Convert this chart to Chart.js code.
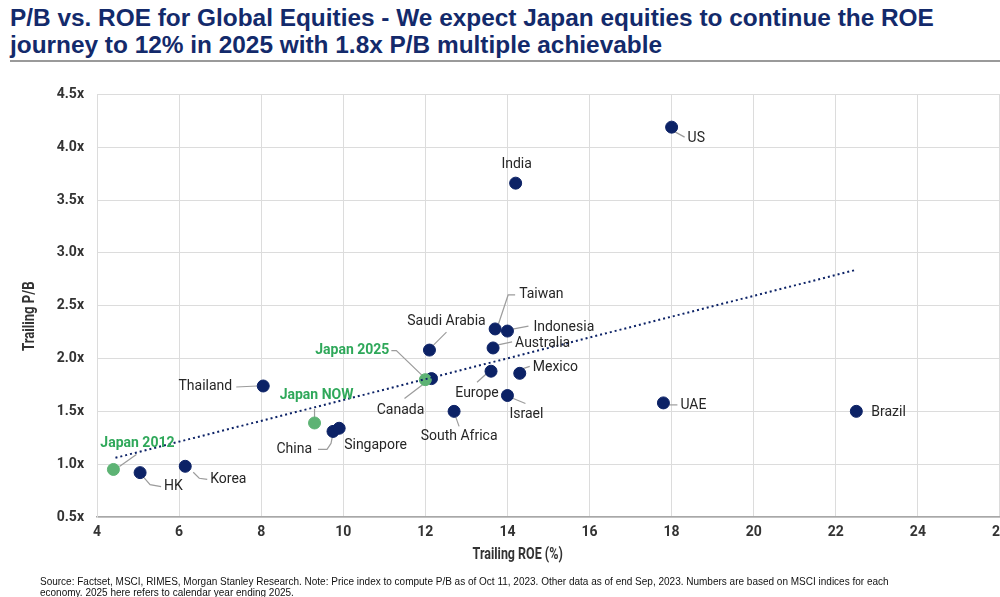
<!DOCTYPE html>
<html>
<head>
<meta charset="utf-8">
<script src="https://cdn.jsdelivr.net/npm/chart.js@4.4.1/dist/chart.umd.min.js"></script>
<style>
  html, body { margin:0; padding:0; background:#fff; width:1000px; height:597px; overflow:hidden; position:relative; }
  #title { position:absolute; left:10px; top:4px; font-family:"Liberation Sans", Arial, sans-serif; font-weight:bold; font-size:24.4px; line-height:27px; color:#132a6b; white-space:nowrap; }
  #rule { position:absolute; left:10px; top:60px; width:990px; height:2px; background:#9a9a9a; }
  #chartWrap { position:absolute; left:0; top:73px; }
  #foot { position:absolute; left:40px; top:576px; font-family:"Liberation Sans", Arial, sans-serif; font-size:10px; line-height:11px; color:#111; white-space:nowrap; }
</style>
</head>
<body>
<div id="title">P/B vs. ROE for Global Equities - We expect Japan equities to continue the ROE<br>journey to 12% in 2025 with 1.8x P/B multiple achievable</div>
<div id="rule"></div>
<div id="chartWrap"><canvas id="c" width="1015" height="504"></canvas></div>
<div id="foot">Source: Factset, MSCI, RIMES, Morgan Stanley Research. Note: Price index to compute P/B as of Oct 11, 2023. Other data as of end Sep, 2023. Numbers are based on MSCI indices for each<br>economy. 2025 here refers to calendar year ending 2025.</div>
<script>
// ---- data ----
const countries = ['US','India','Taiwan','Indonesia','Saudi Arabia','Australia','Canada','Europe','Mexico','Israel','South Africa','Thailand','China','Singapore','HK','Korea','UAE','Brazil'];
const roe       = [18.0, 14.2, 13.7, 14.0, 12.1, 13.65, 12.15, 13.6, 14.3, 14.0, 12.7, 8.05, 9.75, 9.9, 5.05, 6.15, 17.8, 22.5];
const pb        = [4.19, 3.66, 2.28, 2.26, 2.08, 2.10, 1.81, 1.88, 1.86, 1.65, 1.50, 1.74, 1.31, 1.34, 0.92, 0.98, 1.58, 1.50];
const japanLabels = ['Japan 2012','Japan NOW','Japan 2025'];
const japanRoe    = [4.4, 9.3, 12.0];
const japanPb     = [0.95, 1.39, 1.80];
const trendRoe = [4.45, 22.5];
const trendPb  = [1.06, 2.84];
const xTickStep = 2, xMin = 4, xMax = 26;
const yTickStep = 0.5, yMin = 0.5, yMax = 4.5;
const xTitle = 'Trailing ROE (%)';
const yTitle = 'Trailing P/B';

// ---- label placement (pixel offsets from each point) ----
const labelLayout = {
  'US':          {dx:16, dy:11, align:'left', lead:[[2,4],[13,10]]},
  'India':       {dx:1, dy:-19, align:'center'},
  'Taiwan':      {dx:24, dy:-34, align:'left', lead:[[3,-4],[13,-34],[20,-34]]},
  'Indonesia':   {dx:26, dy:-4, align:'left', lead:[[5,-2],[21,-5]]},
  'Saudi Arabia':{dx:17, dy:-29, align:'center', lead:[[4,-5],[17,-18]]},
  'Australia':   {dx:22, dy:-4, align:'left', lead:[[5,-3],[19,-6]]},
  'Canada':      {dx:-31, dy:32, align:'center', lead:[[-27,20],[-6,4]]},
  'Europe':      {dx:-14, dy:22, align:'center', lead:[[-14,11],[-4,2]]},
  'Mexico':      {dx:13, dy:-6, align:'left', lead:[[1,-4],[10,-7]]},
  'Israel':      {dx:19, dy:19, align:'center', lead:[[1,1],[18,8]]},
  'South Africa':{dx:5, dy:25, align:'center', lead:[[0,1],[5,15]]},
  'Thailand':    {dx:-31, dy:1, align:'right', lead:[[-27,1],[-6,0]]},
  'China':       {dx:-21, dy:18, align:'right', lead:[[-15,18],[-6,18],[-2,12],[0,2]]},
  'Singapore':   {dx:5, dy:17, align:'left'},
  'HK':          {dx:24, dy:14, align:'left', lead:[[3,4],[10,12],[21,14]]},
  'Korea':       {dx:25, dy:13, align:'left', lead:[[8,6],[14,12],[22,13]]},
  'UAE':         {dx:17, dy:3, align:'left', lead:[[5,2],[14,2]]},
  'Brazil':      {dx:15, dy:1, align:'left'},
  'Japan 2012':  {dx:24, dy:-26, align:'center', lead:[[23,-15],[6,-3]]},
  'Japan NOW':   {dx:2, dy:-27, align:'center', lead:[[0,-14],[0,-5]]},
  'Japan 2025':  {dx:-36, dy:-29, align:'right', lead:[[-34,-29],[-29,-29],[-3,-4]]}
};

const NAVY = '#0c2266';
const GREEN = '#5db374';
const GREEN_TEXT = '#2fa85a';

const navyPts = countries.map((n,i)=>({x:roe[i], y:pb[i], name:n}));
const greenPts = japanLabels.map((n,i)=>({x:japanRoe[i], y:japanPb[i], name:n}));
const trendPts = trendRoe.map((v,i)=>({x:v, y:trendPb[i]}));

const labelPlugin = {
  id:'pointLabels',
  beforeDatasetsDraw(chart){
    const ctx = chart.ctx, xs = chart.scales.x, ys = chart.scales.y;
    ctx.save();
    ctx.strokeStyle = '#9c9c9c';
    ctx.lineWidth = 1.2;
    [...navyPts, ...greenPts].forEach(p=>{
      const L = labelLayout[p.name];
      if(!L || !L.lead) return;
      const px = xs.getPixelForValue(p.x), py = ys.getPixelForValue(p.y);
      ctx.beginPath();
      L.lead.forEach((o,k)=>{ if(k===0) ctx.moveTo(px+o[0], py+o[1]); else ctx.lineTo(px+o[0], py+o[1]); });
      ctx.stroke();
    });
    ctx.restore();
  },
  afterDatasetsDraw(chart){
    const ctx = chart.ctx, xs = chart.scales.x, ys = chart.scales.y;
    ctx.save();
    ctx.textBaseline = 'middle';
    navyPts.forEach(p=>{
      const L = labelLayout[p.name];
      const px = xs.getPixelForValue(p.x), py = ys.getPixelForValue(p.y);
      ctx.font = '14px Roboto, "Liberation Sans", sans-serif';
      ctx.fillStyle = '#262626';
      ctx.textAlign = L.align;
      ctx.fillText(p.name, px+L.dx, py+L.dy);
    });
    greenPts.forEach(p=>{
      const L = labelLayout[p.name];
      const px = xs.getPixelForValue(p.x), py = ys.getPixelForValue(p.y);
      ctx.font = 'bold 14px Roboto, "Liberation Sans", sans-serif';
      ctx.fillStyle = GREEN_TEXT;
      ctx.textAlign = L.align;
      ctx.fillText(p.name, px+L.dx, py+L.dy);
    });
    // axis titles (condensed look)
    ctx.fillStyle = '#333';
    ctx.font = 'bold 16px Roboto, "Liberation Sans", sans-serif';
    ctx.textAlign = 'center';
    ctx.save();
    ctx.translate(xs.getPixelForValue(14.25), ys.bottom + 38);
    ctx.scale(0.78, 1);
    ctx.fillText(xTitle, 0, 0);
    ctx.restore();
    ctx.save();
    ctx.translate(30, ys.getPixelForValue(2.4));
    ctx.rotate(-Math.PI/2);
    ctx.scale(0.82, 1);
    ctx.fillText(yTitle, 0, 0);
    ctx.restore();
    ctx.restore();
  }
};

const tickFont = {family:'Roboto, "Liberation Sans", sans-serif', size:14, weight:'bold'};

new Chart(document.getElementById('c'), {
  type:'scatter',
  data:{
    datasets:[
      {type:'line', data:trendPts, borderColor:NAVY, borderWidth:2, borderDash:[2,3], pointRadius:0, fill:false, tension:0},
      {data:greenPts, backgroundColor:GREEN, borderColor:GREEN, pointRadius:6, pointHoverRadius:6},
      {data:navyPts, backgroundColor:NAVY, borderColor:NAVY, pointRadius:6, pointHoverRadius:6}
    ]
  },
  options:{
    responsive:false,
    animation:false,
    events:[],
    layout:{padding:{top:6, left:18, right:0, bottom:10}},
    plugins:{legend:{display:false}, tooltip:{enabled:false}},
    scales:{
      x:{
        type:'linear', min:xMin, max:xMax,
        ticks:{stepSize:xTickStep, color:'#333', font:tickFont, padding:7, maxRotation:0},
        grid:{color:'#dcdcdc', drawTicks:false},
        border:{color:'#a8a8a8', width:1.5},
        title:{display:false},
        afterFit(s){ s.height = 50; }
      },
      y:{
        type:'linear', min:yMin, max:yMax,
        ticks:{stepSize:yTickStep, color:'#333', font:tickFont, padding:13, callback:v=>v.toFixed(1)+'x'},
        grid:{color:'#dcdcdc', drawTicks:false},
        border:{color:'#dcdcdc'},
        title:{display:false},
        afterFit(s){ s.width = 79; }
      }
    }
  },
  plugins:[labelPlugin]
});
</script>
</body>
</html>
